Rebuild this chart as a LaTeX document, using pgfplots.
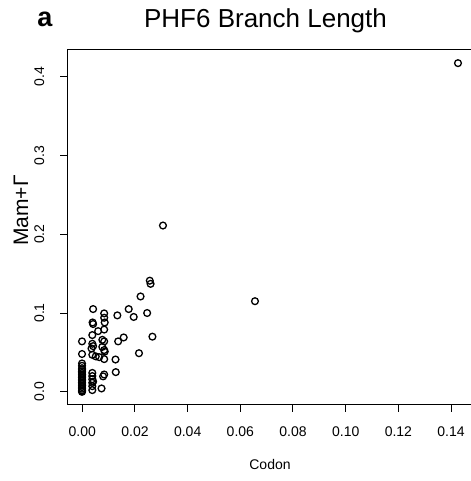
\documentclass[border=0pt]{standalone}
\usepackage{pgfplots}
\pgfplotsset{compat=1.18}
\usepackage{fontspec}
\setmainfont{Liberation Sans}
\pgfplotstableread{
x y
0.1426 0.417
0.0656 0.115
0.0307 0.211
0.0257 0.141
0.0260 0.137
0.0222 0.121
0.0247 0.100
0.0267 0.070
0.0216 0.049
0.0042 0.105
0.0084 0.0995
0.0084 0.094
0.0134 0.097
0.0177 0.105
0.0196 0.095
0.0040 0.088
0.0042 0.086
0.0086 0.088
0.0084 0.079
0.0061 0.077
0.0039 0.072
0.0077 0.066
0.0084 0.064
0.0137 0.064
0.0158 0.069
0.0 0.064
0.0039 0.061
0.0042 0.058
0.0036 0.055
0.0077 0.057
0.0084 0.053
0.0086 0.051
0.0 0.048
0.0039 0.047
0.0052 0.045
0.0065 0.044
0.0084 0.0415
0.0127 0.041
0.0128 0.025
0.0084 0.022
0.0080 0.0196
0.0039 0.024
0.0039 0.020
0.0039 0.016
0.0039 0.0114
0.0039 0.0072
0.0039 0.0022
0.0042 0.013
0.0074 0.0043
0.0 0.036
0.0 0.033
0.0 0.030
0.0 0.028
0.0 0.026
0.0 0.024
0.0 0.022
0.0 0.020
0.0 0.018
0.0 0.016
0.0 0.014
0.0 0.012
0.0 0.010
0.0 0.008
0.0 0.006
0.0 0.004
0.0 0.002
0.0 0.001
0.0 0.0
}\pts
\begin{document}
\begin{tikzpicture}[x=1bp,y=1bp]
\path[use as bounding box] (0,0) rectangle (471,481);
\begin{axis}[
  at={(67bp,76bp)}, anchor=south west, scale only axis,
  width=406bp, height=355bp,
  xmin=-0.0057, xmax=0.1483, ymin=-0.0167, ymax=0.4337,
  clip=false,
  axis line style={line width=1bp},
  tick style={line width=1bp, black},
  tick align=outside, major tick length=7bp,
  xtick={0,0.02,0.04,0.06,0.08,0.10,0.12,0.14},
  ytick={0,0.1,0.2,0.3,0.4},
  xticklabels={}, yticklabels={},
  xtick pos=bottom, ytick pos=left,
]
\addplot[only marks, mark=o, mark size=3.4bp, mark options={line width=1.3bp, black}] table[x=x,y=y] {\pts};
\end{axis}
% tick labels: x tick pixel = 82.3 + v*2634 ; y tick pos = 89.3 + v*787.5
\begin{scope}[every node/.style={font=\fontsize{14bp}{16bp}\selectfont, inner sep=0pt}]
\node[anchor=base] at (82.3,44) {0.00};
\node[anchor=base] at (134.98,44) {0.02};
\node[anchor=base] at (187.66,44) {0.04};
\node[anchor=base] at (240.34,44) {0.06};
\node[anchor=base] at (293.02,44) {0.08};
\node[anchor=base] at (345.7,44) {0.10};
\node[anchor=base] at (398.38,44) {0.12};
\node[anchor=base] at (451.06,44) {0.14};
\node[rotate=90, anchor=base] at (44,89.3) {0.0};
\node[rotate=90, anchor=base] at (44,168.05) {0.1};
\node[rotate=90, anchor=base] at (44,246.8) {0.2};
\node[rotate=90, anchor=base] at (44,325.55) {0.3};
\node[rotate=90, anchor=base] at (44,404.3) {0.4};
\end{scope}
\node[anchor=base, font=\fontsize{26bp}{30bp}\selectfont, inner sep=0pt] at (265.5,453) {PHF6 Branch Length};
\node[anchor=base, font=\bfseries\fontsize{27bp}{30bp}\selectfont, inner sep=0pt] at (45,454) {a};
\node[anchor=base, font=\fontsize{14bp}{16bp}\selectfont, inner sep=0pt] at (270,11) {Codon};
\node[rotate=90, anchor=base, font=\fontsize{21bp}{23bp}\selectfont, inner sep=0pt] at (28,270.5) {Mam+Γ};
\end{tikzpicture}
\end{document}
